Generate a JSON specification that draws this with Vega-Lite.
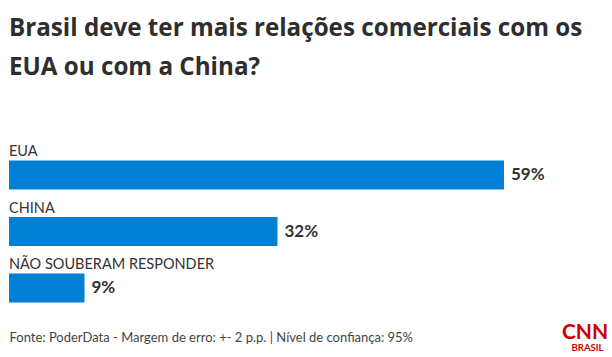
{
  "$schema": "https://vega.github.io/schema/vega-lite/v6.json",
  "width": 594,
  "height": 169.5,
  "autosize": {"type": "none"},
  "padding": {"left": 9, "top": 146.75, "right": 9, "bottom": 40.75},
  "background": "#ffffff",
  "title": {
    "text": ["Brasil deve ter mais relações comerciais com os", "EUA ou com a China?"],
    "anchor": "start",
    "frame": "group",
    "font": "Open Sans",
    "fontSize": 24.2,
    "fontWeight": "bold",
    "color": "#2e2e2e",
    "lineHeight": 38.4,
    "offset": 64
  },
  "config": {
    "view": {"stroke": null},
    "axis": {"grid": false, "domain": false, "ticks": false, "labels": false}
  },
  "data": {
    "values": [
      {"resposta": "EUA", "pct": 0.59},
      {"resposta": "CHINA", "pct": 0.32},
      {"resposta": "NÃO SOUBERAM RESPONDER", "pct": 0.09}
    ]
  },
  "resolve": {"axis": {"y": "independent"}},
  "layer": [
    {
      "mark": {"type": "bar", "color": "#0080D4"},
      "encoding": {
        "y": {
          "field": "resposta", "type": "nominal", "sort": null,
          "scale": {"paddingInner": 0.4867, "paddingOuter": 0.2434},
          "axis": {
            "orient": "left", "title": "BRASIL", "titleAngle": 0,
            "titleX": 578, "titleY": 203.75, "titleAlign": "center",
            "titleBaseline": "alphabetic", "titleFont": "Lato",
            "titleFontSize": 9.5, "titleFontWeight": "bold", "titleColor": "#CC0000"
          }
        },
        "x": {
          "field": "pct", "type": "quantitative",
          "scale": {"domain": [0, 0.708], "nice": false},
          "axis": {
            "title": "Fonte: PoderData - Margem de erro: +- 2 p.p. | Nível de confiança: 95%",
            "titleX": 0, "titleY": 25.5, "titleAlign": "left", "titleAnchor": "start",
            "titleBaseline": "alphabetic", "titleFont": "Lato", "titleFontSize": 13,
            "titleFontWeight": "normal", "titleColor": "#444444"
          }
        }
      }
    },
    {
      "mark": {"type": "text", "align": "left", "baseline": "middle", "dx": 7, "font": "Lato", "fontSize": 17, "fontWeight": "bold", "color": "#333333"},
      "encoding": {
        "y": {
          "field": "resposta", "type": "nominal", "sort": null,
          "axis": {
            "orient": "right", "title": "CNN", "titleAngle": 0,
            "titleX": -18.5, "titleY": 191.25, "titleAlign": "center",
            "titleBaseline": "alphabetic", "titleFont": "Lato",
            "titleFontSize": 21, "titleFontWeight": "bold", "titleColor": "#CC0000"
          }
        },
        "x": {"field": "pct", "type": "quantitative"},
        "text": {"field": "pct", "type": "quantitative", "format": ".0%"}
      }
    },
    {
      "mark": {"type": "text", "align": "left", "baseline": "alphabetic", "dy": -19, "font": "Lato", "fontSize": 14.5, "color": "#333333"},
      "encoding": {
        "y": {"field": "resposta", "type": "nominal", "sort": null, "axis": null},
        "x": {"datum": 0, "type": "quantitative"},
        "text": {"field": "resposta"}
      }
    }
  ]
}
